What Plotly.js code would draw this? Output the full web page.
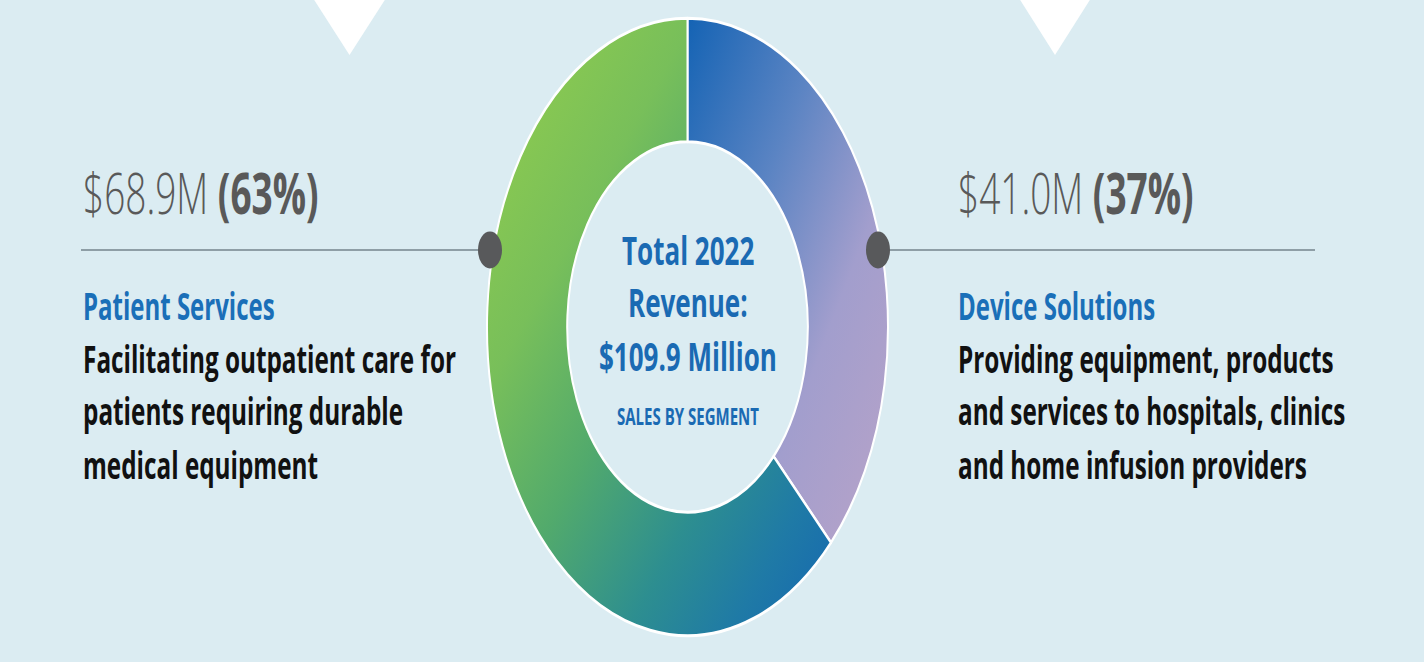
<!DOCTYPE html>
<html>
<head>
<meta charset="utf-8">
<script src="https://cdn.plot.ly/plotly-3.0.1.min.js"></script>
<style>
  html, body { margin: 0; padding: 0; background: #dbecf2; overflow: hidden; }
  #wrap { width: 1424px; height: 662px; overflow: hidden; }
  #chart { width: 1424px; height: 430px; transform: scaleY(1.5395); transform-origin: 0 0; }
</style>
</head>
<body>
<div id="wrap"><div id="chart"></div></div>
<script>
// ---- data ----
const segments = ['Device Solutions', 'Patient Services'];
const revenue = [41.0, 68.9];           // $ millions, 2022
const segmentDescriptions = [
  ['Providing equipment, products', 'and services to hospitals, clinics', 'and home infusion providers'],
  ['Facilitating outpatient care for', 'patients requiring durable', 'medical equipment']
];
const centerLines = ['Total 2022', 'Revenue:', '$109.9 Million'];
const centerSubtitle = 'SALES BY SEGMENT';

// ---- styling ----
const W = 1424, H = 430, S = 662 / 430;
const BG = '#dbecf2';
const solidColors = ['#8f96c8', '#4fa86e'];
const gradients = [
  {id: 'gradDevice', stops: [[0, '#1463b4'], [0.35, '#5b84c3'], [0.65, '#a29ecd'], [1, '#b8a3c8']]},
  {id: 'gradPatient', stops: [[0, '#95cf4b'], [0.3, '#78bf5a'], [0.5, '#52aa6c'], [0.7, '#2d8e90'], [0.85, '#1f7aa6'], [1, '#1566b2']]}
];
const FONT = 'Open Sans, Noto Sans, sans-serif';
const px = x => x / W;                     // reference x pixel -> paper
const py = y => 1 - (y / S) / H;           // reference y pixel -> paper

const total = revenue.reduce((a, b) => a + b, 0);
const share = revenue.map(v => Math.round(v / total * 100));
const fmt = i => '$' + revenue[i].toFixed(1) + 'M <b>(' + share[i] + '%)</b>';

const trace = {
  type: 'pie',
  labels: segments,
  values: revenue,
  sort: false,
  direction: 'clockwise',
  rotation: 0,
  hole: 0.6,
  textinfo: 'none',
  hoverinfo: 'none',
  showlegend: false,
  marker: {colors: solidColors, line: {color: '#ffffff', width: 2}},
  domain: {x: [px(487), px(888)], y: [py(636), py(18)]}
};

const annotations = [];
function ann(text, x, y, size, color, anchor, weight) {
  annotations.push({
    text: text, x: px(x), y: py(y), xref: 'paper', yref: 'paper',
    xanchor: anchor || 'left', yanchor: 'middle', showarrow: false,
    font: {family: FONT, size: size, color: color, weight: weight || 700}
  });
}
// side blocks: index 1 = Patient (left), index 0 = Device (right)
const sides = [{i: 1, x: 81}, {i: 0, x: 956}];
sides.forEach(s => {
  ann(fmt(s.i), s.x, 191, 37, '#595959', 'left', 300);
  ann(segments[s.i], s.x, 306, 24, '#1a6fb8', 'left', 700);
  segmentDescriptions[s.i].forEach((line, k) => {
    ann(line, s.x, 358 + k * 53, 24.3, '#111111', 'left', 700);
  });
});
centerLines.forEach((line, k) => ann(line, 688, 249 + k * 53, 26, '#1a6ab3', 'center', 700));
ann(centerSubtitle, 688, 415, 15, '#1a6ab3', 'center', 700);

const lineY = py(250);
const dotR = 12 / H;
const shapes = [
  {type: 'path', xref: 'paper', yref: 'paper', layer: 'above',
   path: `M ${px(311)},${py(-5)} L ${px(388)},${py(-5)} L ${px(349.5)},${py(55)} Z`,
   fillcolor: '#ffffff', line: {width: 0}},
  {type: 'path', xref: 'paper', yref: 'paper', layer: 'above',
   path: `M ${px(1017)},${py(-5)} L ${px(1093)},${py(-5)} L ${px(1055)},${py(55)} Z`,
   fillcolor: '#ffffff', line: {width: 0}},
  {type: 'line', xref: 'paper', yref: 'paper', layer: 'above',
   x0: px(81), x1: px(490), y0: lineY, y1: lineY, line: {color: '#8e9ea6', width: 1.4}},
  {type: 'line', xref: 'paper', yref: 'paper', layer: 'above',
   x0: px(878), x1: px(1315), y0: lineY, y1: lineY, line: {color: '#8e9ea6', width: 1.4}},
  {type: 'circle', xref: 'paper', yref: 'paper', layer: 'above',
   x0: px(490 - 12), x1: px(490 + 12), y0: lineY - dotR, y1: lineY + dotR,
   fillcolor: '#58595b', line: {width: 0}},
  {type: 'circle', xref: 'paper', yref: 'paper', layer: 'above',
   x0: px(878 - 12), x1: px(878 + 12), y0: lineY - dotR, y1: lineY + dotR,
   fillcolor: '#58595b', line: {width: 0}}
];

const layout = {
  width: W, height: H,
  margin: {l: 0, r: 0, t: 0, b: 0},
  paper_bgcolor: BG, plot_bgcolor: BG,
  annotations: annotations, shapes: shapes,
  font: {family: FONT}
};

const gd = document.getElementById('chart');
function applyGradients() {
  const svg = gd.querySelector('svg.main-svg');
  if (!svg) return;
  let defs = svg.querySelector('defs');
  if (!defs) { defs = document.createElementNS('http://www.w3.org/2000/svg', 'defs'); svg.insertBefore(defs, svg.firstChild); }
  gradients.forEach(g => {
    if (document.getElementById(g.id)) return;
    const lg = document.createElementNS('http://www.w3.org/2000/svg', 'linearGradient');
    lg.setAttribute('id', g.id);
    lg.setAttribute('x1', '0'); lg.setAttribute('y1', '0');
    lg.setAttribute('x2', '1'); lg.setAttribute('y2', '1');
    g.stops.forEach(st => {
      const s = document.createElementNS('http://www.w3.org/2000/svg', 'stop');
      s.setAttribute('offset', st[0]);
      s.setAttribute('stop-color', st[1]);
      lg.appendChild(s);
    });
    defs.appendChild(lg);
  });
  gd.querySelectorAll('.pielayer .slice path.surface').forEach((p, i) => {
    if (gradients[i]) p.style.fill = 'url(#' + gradients[i].id + ')';
  });
}
Plotly.newPlot(gd, [trace], layout, {staticPlot: true, displayModeBar: false}).then(() => {
  applyGradients();
  gd.on && gd.on('plotly_afterplot', applyGradients);
});
</script>
</body>
</html>
